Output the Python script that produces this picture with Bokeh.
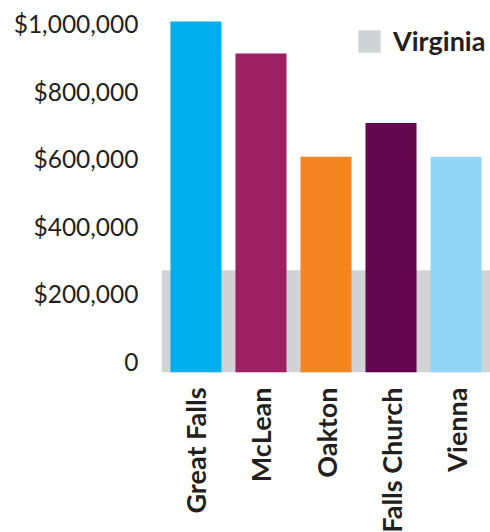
import math
from bokeh.plotting import figure
from bokeh.models import Range1d, FactorRange, Legend, LegendItem, FixedTicker
from bokeh.embed import file_html
from bokeh.resources import INLINE

# ---- data ----
CATS = ["Great Falls", "McLean", "Oakton", "Falls Church", "Vienna"]
PRICES = [1006000, 912000, 606000, 706000, 606000]
COLORS = ["#00aeef", "#9e1f63", "#f5851f", "#65064e", "#92d6f7"]
VIRGINIA_LABEL = "Virginia"
VIRGINIA = 270000
TICKS = [0, 200000, 400000, 600000, 800000, 1000000]
TICK_LABELS = ["0", "$200,000", "$400,000", "$600,000", "$800,000", "$1,000,000"]

# ---- layout / style ----
Y_START, Y_END = -32500, 1033000
PAD = 0.012
FONT = "Lato"
TXT = "#231f20"
GRAY = "#d1d3d4"

p = figure(
    x_range=FactorRange(factors=CATS, range_padding=PAD, range_padding_units="percent"),
    y_range=Range1d(Y_START, Y_END),
    frame_width=329, frame_height=360,
    min_border_left=161, min_border_right=0, min_border_top=12, min_border_bottom=0,
    output_backend="svg", toolbar_location=None,
)

band = p.vbar(x=[CATS[len(CATS) // 2]], width=len(CATS) * (1 + PAD), bottom=Y_START,
              top=[VIRGINIA], fill_color=GRAY, line_color=None)
p.vbar(x=CATS, top=PRICES, bottom=Y_START, width=0.785, fill_color=COLORS, line_color=None)

legend = Legend(items=[LegendItem(label=VIRGINIA_LABEL, renderers=[band])],
                location=(194, 315), border_line_color=None, background_fill_alpha=0,
                padding=0, margin=0, glyph_width=28, glyph_height=28, label_standoff=10,
                label_text_font=FONT, label_text_font_style="bold",
                label_text_font_size="27px", label_text_color=TXT)
p.add_layout(legend)

p.xgrid.grid_line_color = None
p.ygrid.grid_line_color = None
p.outline_line_color = None
p.background_fill_color = "white"

ya = p.yaxis[0]
ya.ticker = FixedTicker(ticks=TICKS)
ya.major_label_overrides = {t: l for t, l in zip(TICKS, TICK_LABELS)}
ya.axis_line_color = None
ya.major_tick_line_color = None
ya.minor_tick_line_color = None
ya.major_tick_out = 0
ya.major_tick_in = 0
ya.major_label_standoff = 23
ya.major_label_text_font = FONT
ya.major_label_text_font_size = "24.5px"
ya.major_label_text_color = TXT

xa = p.xaxis[0]
xa.axis_line_color = None
xa.major_tick_line_color = None
xa.major_tick_out = 0
xa.major_tick_in = 0
xa.major_label_standoff = 15
xa.major_label_orientation = math.pi / 2
xa.major_label_text_font = FONT
xa.major_label_text_font_style = "bold"
xa.major_label_text_font_size = "27px"
xa.major_label_text_color = TXT

open("out.html", "w").write(file_html(p, INLINE))
